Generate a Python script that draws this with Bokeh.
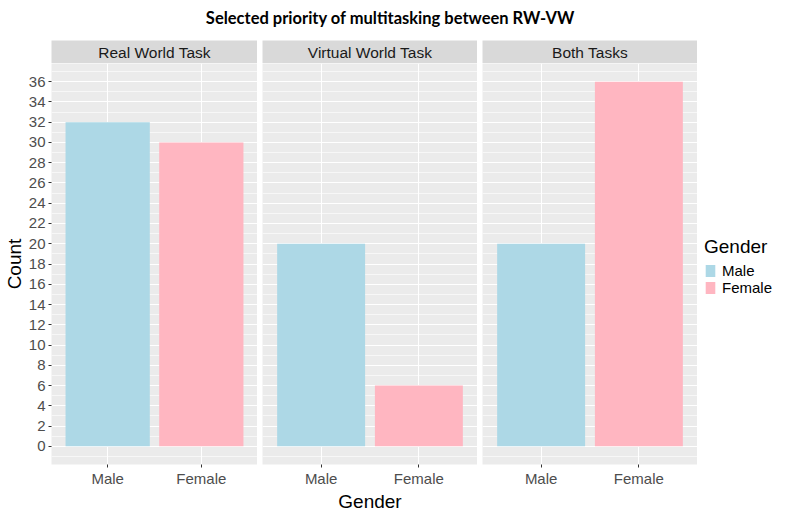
from bokeh.plotting import figure
from bokeh.models import (Range1d, FactorRange, FixedTicker, Label, Legend,
                          LegendItem, ColumnDataSource)
from bokeh.core.properties import field
from bokeh.layouts import column, row
from bokeh.transform import factor_cmap
from bokeh.embed import file_html
from bokeh.resources import INLINE

# ---------------- data ----------------
title_text = "Selected priority of multitasking between RW-VW"
facets = ["Real World Task", "Virtual World Task", "Both Tasks"]
genders = ["Male", "Female"]
counts_real = [32, 30]
counts_virtual = [20, 6]
counts_both = [20, 36]
y_ticks = list(range(0, 37, 2))
y_label = "Count"
x_label = "Gender"
legend_title = "Gender"

counts = [counts_real, counts_virtual, counts_both]

# ---------------- style ----------------
palette = ["#ADD8E6", "#FFB6C1"]
FONT = "Liberation Sans"
LEFT, GAP, RIGHT = 42, 5, 83
FW = 215
TITLE_H, STRIP_H = 40, 23
BOTTOM = 52
FH = 516 - TITLE_H - STRIP_H - BOTTOM
minor = [-1] + [t + 1 for t in y_ticks]


def style_axis(ax):
    ax.major_label_text_font = FONT
    ax.major_label_text_font_size = "15px"
    ax.major_label_text_color = "#4D4D4D"
    ax.major_tick_line_color = "#333333"
    ax.major_tick_out = 3
    ax.major_tick_in = 0
    ax.minor_tick_line_color = None
    ax.axis_line_color = None
    ax.major_label_standoff = 2
    ax.axis_label_text_font = FONT
    ax.axis_label_text_font_size = "19px"
    ax.axis_label_text_font_style = "normal"
    ax.axis_label_text_color = "#000000"
    ax.axis_label_standoff = 1


columns = []
sources = []
for i, (facet, vals) in enumerate(zip(facets, counts)):
    left = LEFT if i == 0 else GAP
    w = left + FW

    s = figure(width=w, height=STRIP_H, x_range=Range1d(0, 1), y_range=Range1d(0, 1),
               x_axis_type=None, y_axis_type=None, output_backend="svg",
               toolbar_location=None, min_border_left=left, min_border_right=0,
               min_border_top=0, min_border_bottom=0,
               background_fill_color="#D9D9D9", outline_line_color=None)
    s.add_layout(Label(x=0.5, y=0.5, text=facet, text_align="center",
                       text_baseline="middle", text_font=FONT,
                       text_font_size="15.5px", text_color="#1A1A1A"))

    p = figure(width=w, height=FH + BOTTOM,
               x_range=FactorRange(factors=genders, range_padding=0.1,
                                   range_padding_units="absolute"),
               y_range=Range1d(-1.8, 37.8),
               y_axis_location="left" if i == 0 else None,
               output_backend="svg", toolbar_location=None,
               min_border_left=left, min_border_right=0,
               min_border_top=0, min_border_bottom=BOTTOM,
               background_fill_color="#EBEBEB", outline_line_color=None)

    src = ColumnDataSource(dict(gender=genders, count=vals))
    sources.append(src)
    p.vbar(x="gender", top="count", width=0.9, source=src,
           fill_color=factor_cmap("gender", palette, genders), line_color=None)

    p.ygrid.ticker = FixedTicker(ticks=y_ticks, minor_ticks=minor)
    p.ygrid.grid_line_color = "white"
    p.ygrid.grid_line_width = 1.1
    p.ygrid.minor_grid_line_color = "white"
    p.ygrid.minor_grid_line_width = 0.6
    p.xgrid.grid_line_color = "white"
    p.xgrid.grid_line_width = 1.1

    style_axis(p.xaxis[0])
    if i == 1:
        p.xaxis.axis_label = x_label
    if i == 0:
        p.yaxis.ticker = FixedTicker(ticks=y_ticks, minor_ticks=minor)
        style_axis(p.yaxis[0])
        p.yaxis.axis_label = y_label

    columns.append(column(s, p))

# ---------------- legend (own canvas, keys from the same data) ----------------
LH = STRIP_H + FH + BOTTOM
lg = figure(width=RIGHT, height=LH, x_range=FactorRange(factors=genders),
            y_range=Range1d(-2, -1), x_axis_type=None, y_axis_type=None,
            output_backend="svg", toolbar_location=None, min_border=0,
            outline_line_color=None, background_fill_color="white")
lr = lg.vbar(x="gender", top="count", width=0.9, source=sources[2],
             fill_color=factor_cmap("gender", palette, genders), line_color=None)
lr.visible = False
leg_h = 65
leg = Legend(items=[LegendItem(label=field("gender"), renderers=[lr])],
             location=(7, BOTTOM + (FH - leg_h) // 2), title=legend_title,
             title_text_font=FONT, title_text_font_size="19px",
             title_text_color="#000000", title_text_font_style="normal",
             title_standoff=4,
             label_text_font=FONT, label_text_font_size="15px",
             label_text_color="#000000",
             glyph_width=12, glyph_height=15, label_height=15,
             label_standoff=6, spacing=0, padding=4, margin=0,
             inactive_fill_alpha=0,
             border_line_color=None, background_fill_alpha=0)
lg.add_layout(leg)

total_w = LEFT + 3 * FW + 2 * GAP + RIGHT
t = figure(width=total_w, height=TITLE_H, x_axis_type=None, y_axis_type=None,
           min_border=0, toolbar_location=None, output_backend="svg",
           outline_line_color=None, title=title_text)
t.title.align = "center"
t.title.text_font = "Lato"
t.title.text_font_style = "bold"
t.title.text_font_size = "16.5px"
t.title.text_color = "#000000"

layout = column(t, row(*columns, lg))
open("out.html", "w").write(file_html(layout, INLINE))
